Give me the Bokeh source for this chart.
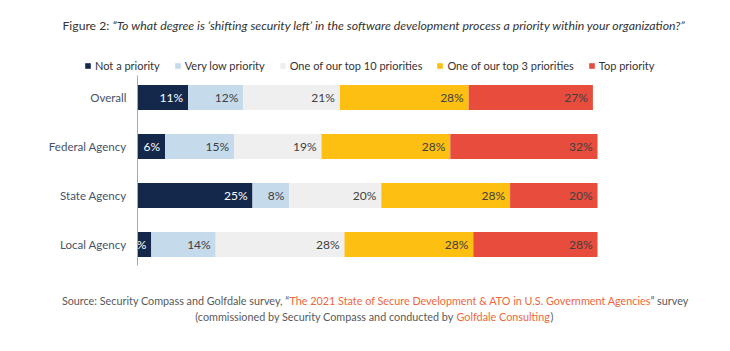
import numpy as np
from bokeh.plotting import figure
from bokeh.models import Range1d, Legend, LegendItem, Label, ColumnDataSource
from bokeh.core.properties import value
from bokeh.embed import file_html
from bokeh.resources import INLINE

categories = ["Overall", "Federal Agency", "State Agency", "Local Agency"]
series_names = ["Not a priority", "Very low priority", "One of our top 10 priorities",
                "One of our top 3 priorities", "Top priority"]
not_a_priority = [11, 6, 25, 3]
very_low_priority = [12, 15, 8, 14]
top_10_priorities = [21, 19, 20, 28]
top_3_priorities = [28, 28, 28, 28]
top_priority = [27, 32, 20, 28]

series_values = [not_a_priority, very_low_priority, top_10_priorities, top_3_priorities, top_priority]
colors = ["#14284B", "#C5DAEA", "#EFEFEF", "#FDBF12", "#E84C3D"]
label_colors = ["#FFFFFF", "#404040", "#404040", "#404040", "#404040"]

W, H = 730, 351
# layout: the plot frame covers the whole canvas; bar area from px 137 to 597 (0..100 %)
AX_L, AX_R = 137, 597
PX_PER_PCT = (AX_R - AX_L) / 100.0
ROW0, ROW_STEP = 97, 49  # canvas y of the first row centre, spacing between rows

x0 = -AX_L / PX_PER_PCT
x1 = (W - AX_L) / PX_PER_PCT
y_top = (0 - ROW0) / ROW_STEP
y_bot = (H - ROW0) / ROW_STEP

p = figure(width=W, height=H, output_backend="svg", toolbar_location=None,
           x_range=Range1d(x0, x1), y_range=Range1d(y_bot, y_top),
           x_axis_location=None, y_axis_location=None,
           min_border=0, min_border_left=0, min_border_right=0,
           min_border_top=0, min_border_bottom=0)
p.outline_line_color = None
p.grid.visible = False
p.background_fill_color = "white"
p.border_fill_color = "white"

rows = np.arange(len(categories))
n = len(categories)

left = np.zeros(n)
items = []
for name, vals, col, lc in zip(series_names, series_values, colors, label_colors):
    vals = np.array(vals, dtype=float)
    right = left + vals
    # keep segments inside the 0..100 bar area
    src = ColumnDataSource(dict(y=rows, left=left, right=np.minimum(right, 100),
                                lbl=[f"{int(v)}%" for v in vals]))
    r = p.hbar(y="y", left="left", right="right", height=0.51, source=src,
               fill_color=col, line_color=None)
    p.text(x="right", y="y", text="lbl", source=src, text_align="right",
           text_baseline="middle", x_offset=-5, text_font=value("Lato"),
           text_font_size="12px", text_color=lc)
    items.append(LegendItem(label=name, renderers=[r]))
    left = right

# mask anything left of the axis in the bar band (clips the narrow first label)
p.quad(left=[x0], right=[-0.02], bottom=[-0.5], top=[n - 0.5],
       fill_color="white", line_color=None)

# category labels and vertical axis line
p.text(x=[(126 - AX_L) / PX_PER_PCT] * n, y=rows, text=categories,
       text_align="right", text_baseline="middle", text_font=value("Lato"),
       text_font_size="11.5px", text_color="#44546A")
p.segment(x0=[0], y0=[-0.45], x1=[0], y1=[n - 0.57], line_color="#7FB2E5", line_width=1)

legend = Legend(items=items, orientation="horizontal", location=(84, H - 72),
                glyph_width=7, glyph_height=7, label_height=12, label_standoff=4,
                spacing=14, padding=0, margin=0, border_line_color=None,
                background_fill_alpha=0, label_text_font="Lato",
                label_text_font_size="11px", label_text_color="#333333")
p.add_layout(legend, "center")


def add_label(text, cx, cy, align="left", color="#333333", size="10.8px", style="normal", font="Lato"):
    p.add_layout(Label(x=cx, y=H - cy, x_units="screen", y_units="screen", text=text,
                       text_align=align, text_baseline="middle", text_color=color,
                       text_font=font, text_font_size=size, text_font_style=style))


# title
add_label("Figure 2:", 62, 25, size="12.2px", color="#333333")
add_label("\u201cTo what degree is \u2018shifting security left\u2019 in the software development "
          "process a priority within your organization?\u201d", 112, 25, size="12.3px",
          color="#333333", style="italic")

# source
gray = "#595959"
orange = "#F0663A"
add_label("Source: Security Compass and Golfdale survey, \u201c", 289, 300, align="right", color=gray)
add_label("The 2021 State of Secure Development & ATO in U.S. Government Agencies", 289, 300, color=orange)
add_label("\u201d survey", 650, 300, color=gray)
add_label("(commissioned by Security Compass and conducted by ", 456, 316, align="right", color=gray)
add_label("Golfdale Consulting", 456, 316, color=orange)
add_label(")", 550, 316, color=gray)

open("out.html", "w").write(file_html(p, INLINE))
